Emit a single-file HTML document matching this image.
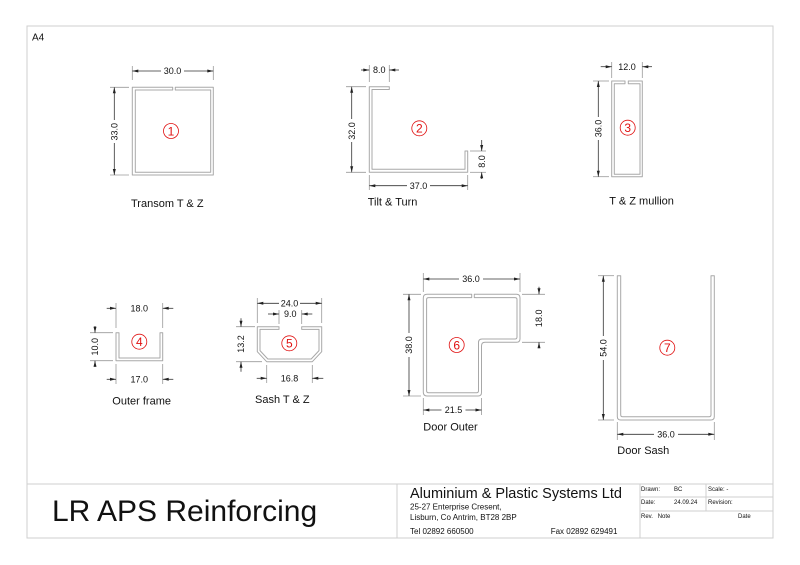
<!DOCTYPE html>
<html>
<head>
<meta charset="utf-8">
<style>
html,body{margin:0;padding:0;background:#fff;}
svg{display:block;}
text{font-family:"Liberation Sans",Arial,sans-serif;fill:#111;}
.dim{font-size:9px;}
.lbl{font-size:11px;}
.num{font-size:12px;fill:#e01010;}
.tb{font-size:6px;fill:#111;}
</style>
</head>
<body>
<svg width="800" height="565" viewBox="0 0 800 565" xmlns="http://www.w3.org/2000/svg">
<rect width="800" height="565" fill="#fff"/>

<!-- Frame -->
<g stroke="#cfcfcf" stroke-width="1" fill="none">
  <rect x="27" y="26" width="746" height="512"/>
  <line x1="27" y1="484" x2="773" y2="484"/>
  <line x1="397" y1="484" x2="397" y2="538"/>
  <line x1="640" y1="484" x2="640" y2="538"/>
  <line x1="640" y1="497" x2="773" y2="497"/>
  <line x1="640" y1="511" x2="773" y2="511"/>
  <line x1="706" y1="484" x2="706" y2="511"/>
</g>
<text x="32" y="40.5" style="font-size:10px">A4</text>

<!-- Profiles -->
<g stroke="#a8a8a8" stroke-width="1" fill="none" stroke-linejoin="round">
  <path d="M172.7,87.3 H132.3 V175 H213.3 V87.3 H175.3 V90 H210.7 V172.3 H135.3 V90 H172.7 Z"/>
  <path d="M389.3,86.7 H369.3 V172.3 H467.7 V151 H465 V169.3 H372 V89.5 H389.3 Z"/>
  <path d="M625,81 H611.7 V176.7 H642.3 V81 H628.3 V83.7 H640 V174.3 H614.3 V83.7 H625 Z"/>
  <path d="M116,332.7 V360.7 H162.7 V332.7 H160 V358 H119 V332.7 Z"/>
  <path d="M279,326.7 H257.3 V351.7 L266.7,361.7 H312.3 L321.7,351.7 V326.7 H301.7 V329.4 H319 V350.6 L311.2,359 H267.8 L260,350.6 V329.4 H279 Z"/>
  <path d="M471.7,294.3 H427 Q423.3,294.3 423.3,298 V392.3 Q423.3,396 427,396 H478 Q481.5,396 481.5,392.5 V346 Q481.5,342.3 485,342.3 H516.5 Q520,342.3 520,338.8 V298 Q520,294.3 516.5,294.3 H474.3 V297.6 H515 Q517,297.6 517,299.6 V337 Q517,339 515,339 H482 Q478.5,339 478.5,342.5 V390.7 Q478.5,392.7 476.5,392.7 H428.6 Q426.6,392.7 426.6,390.7 V299.6 Q426.6,297.6 428.6,297.6 H471.7 Z"/>
  <path d="M617.3,275.7 V416.5 Q617.3,420 620.8,420 H710.8 Q714.3,420 714.3,416.5 V275.7 H711 V414.7 Q711,416.7 709,416.7 H622.7 Q620.7,416.7 620.7,414.7 V275.7 Z"/>
</g>

<!-- Extension lines -->
<g stroke="#9a9a9a" stroke-width="0.8" fill="none">
  <!-- p1 -->
  <line x1="132.3" y1="66" x2="132.3" y2="80"/>
  <line x1="213.3" y1="66" x2="213.3" y2="80"/>
  <line x1="110" y1="87.3" x2="129" y2="87.3"/>
  <line x1="110" y1="175" x2="129" y2="175"/>
  <!-- p2 -->
  <line x1="369.3" y1="65" x2="369.3" y2="82"/>
  <line x1="389.3" y1="65" x2="389.3" y2="82"/>
  <line x1="346" y1="86.7" x2="366" y2="86.7"/>
  <line x1="346" y1="172.3" x2="366" y2="172.3"/>
  <line x1="369.3" y1="175" x2="369.3" y2="190"/>
  <line x1="467.7" y1="175" x2="467.7" y2="190"/>
  <line x1="470" y1="151" x2="486" y2="151"/>
  <line x1="470" y1="172.3" x2="486" y2="172.3"/>
  <!-- p3 -->
  <line x1="611.7" y1="62" x2="611.7" y2="78"/>
  <line x1="642.3" y1="62" x2="642.3" y2="78"/>
  <line x1="593" y1="81" x2="609" y2="81"/>
  <line x1="593" y1="176.7" x2="609" y2="176.7"/>
  <!-- p4 -->
  <line x1="116" y1="303" x2="116" y2="328"/>
  <line x1="162.7" y1="303" x2="162.7" y2="328"/>
  <line x1="90" y1="332.7" x2="113" y2="332.7"/>
  <line x1="90" y1="360.7" x2="113" y2="360.7"/>
  <line x1="116" y1="364" x2="116" y2="384"/>
  <line x1="162.7" y1="364" x2="162.7" y2="384"/>
  <!-- p5 -->
  <line x1="257.3" y1="298" x2="257.3" y2="323"/>
  <line x1="321.7" y1="298" x2="321.7" y2="323"/>
  <line x1="279" y1="310" x2="279" y2="324"/>
  <line x1="301.7" y1="310" x2="301.7" y2="324"/>
  <line x1="236" y1="326.7" x2="255" y2="326.7"/>
  <line x1="236" y1="361.7" x2="262" y2="361.7"/>
  <line x1="266.7" y1="365" x2="266.7" y2="383"/>
  <line x1="312.3" y1="365" x2="312.3" y2="383"/>
  <!-- p6 -->
  <line x1="423.3" y1="273" x2="423.3" y2="292"/>
  <line x1="520" y1="273" x2="520" y2="292"/>
  <line x1="403" y1="294.3" x2="421" y2="294.3"/>
  <line x1="403" y1="396" x2="421" y2="396"/>
  <line x1="522" y1="294.3" x2="545" y2="294.3"/>
  <line x1="522" y1="342.3" x2="545" y2="342.3"/>
  <line x1="423.3" y1="398" x2="423.3" y2="415"/>
  <line x1="481.5" y1="398" x2="481.5" y2="415"/>
  <!-- p7 -->
  <line x1="598" y1="275.7" x2="614" y2="275.7"/>
  <line x1="598" y1="420" x2="614" y2="420"/>
  <line x1="617.3" y1="422" x2="617.3" y2="440"/>
  <line x1="714.3" y1="422" x2="714.3" y2="440"/>
</g>

<!-- Dimension lines -->
<g stroke="#333" stroke-width="0.8" fill="none">
  <line x1="132.3" y1="71" x2="161" y2="71"/><line x1="184" y1="71" x2="213.3" y2="71"/>
  <line x1="114.3" y1="87.3" x2="114.3" y2="120"/><line x1="114.3" y1="143" x2="114.3" y2="175"/>
  <line x1="361" y1="70" x2="369.3" y2="70"/><line x1="389.3" y1="70" x2="399" y2="70"/>
  <line x1="351.7" y1="86.7" x2="351.7" y2="119"/><line x1="351.7" y1="142" x2="351.7" y2="172.3"/>
  <line x1="369.3" y1="185.7" x2="407" y2="185.7"/><line x1="430" y1="185.7" x2="467.7" y2="185.7"/>
  <line x1="481.7" y1="140" x2="481.7" y2="151"/><line x1="481.7" y1="172.3" x2="481.7" y2="179"/>
  <line x1="600.7" y1="66.7" x2="611.7" y2="66.7"/><line x1="642.3" y1="66.7" x2="652" y2="66.7"/>
  <line x1="598.3" y1="81" x2="598.3" y2="117"/><line x1="598.3" y1="140" x2="598.3" y2="176.7"/>
  <line x1="106.7" y1="308.3" x2="116" y2="308.3"/><line x1="162.7" y1="308.3" x2="173.3" y2="308.3"/>
  <line x1="95" y1="326" x2="95" y2="332.7"/><line x1="95" y1="360.7" x2="95" y2="367"/>
  <line x1="106.7" y1="379.3" x2="116" y2="379.3"/><line x1="162.7" y1="379.3" x2="173.3" y2="379.3"/>
  <line x1="257.3" y1="303.3" x2="279" y2="303.3"/><line x1="300" y1="303.3" x2="321.7" y2="303.3"/>
  <line x1="268" y1="314" x2="279" y2="314"/><line x1="301.7" y1="314" x2="312.3" y2="314"/>
  <line x1="241" y1="318.3" x2="241" y2="326.7"/><line x1="241" y1="361.7" x2="241" y2="371.7"/>
  <line x1="256.7" y1="378.3" x2="266.7" y2="378.3"/><line x1="312.3" y1="378.3" x2="323.3" y2="378.3"/>
  <line x1="423.3" y1="279" x2="459" y2="279"/><line x1="483" y1="279" x2="520" y2="279"/>
  <line x1="409" y1="294.3" x2="409" y2="333"/><line x1="409" y1="357" x2="409" y2="396"/>
  <line x1="539" y1="286.7" x2="539" y2="294.3"/><line x1="539" y1="342.3" x2="539" y2="348.3"/>
  <line x1="423.3" y1="410" x2="441.5" y2="410"/><line x1="465.5" y1="410" x2="481.5" y2="410"/>
  <line x1="603.3" y1="275.7" x2="603.3" y2="336"/><line x1="603.3" y1="360" x2="603.3" y2="420"/>
  <line x1="617.3" y1="434.3" x2="654" y2="434.3"/><line x1="678" y1="434.3" x2="714.3" y2="434.3"/>
</g>

<!-- Arrowheads -->
<g fill="#222" stroke="none">
  <polygon points="132.3,71 138.3,69.5 138.3,72.5"/><polygon points="213.3,71 207.3,69.5 207.3,72.5"/>
  <polygon points="114.3,87.3 112.8,93.3 115.8,93.3"/><polygon points="114.3,175 112.8,169 115.8,169"/>
  <polygon points="369.3,70 363.3,68.5 363.3,71.5"/><polygon points="389.3,70 395.3,68.5 395.3,71.5"/>
  <polygon points="351.7,86.7 350.2,92.7 353.2,92.7"/><polygon points="351.7,172.3 350.2,166.3 353.2,166.3"/>
  <polygon points="369.3,185.7 375.3,184.2 375.3,187.2"/><polygon points="467.7,185.7 461.7,184.2 461.7,187.2"/>
  <polygon points="481.7,151 480.2,145 483.2,145"/><polygon points="481.7,172.3 480.2,178.3 483.2,178.3"/>
  <polygon points="611.7,66.7 605.7,65.2 605.7,68.2"/><polygon points="642.3,66.7 648.3,65.2 648.3,68.2"/>
  <polygon points="598.3,81 596.8,87 599.8,87"/><polygon points="598.3,176.7 596.8,170.7 599.8,170.7"/>
  <polygon points="116,308.3 110,306.8 110,309.8"/><polygon points="162.7,308.3 168.7,306.8 168.7,309.8"/>
  <polygon points="95,332.7 93.5,326.7 96.5,326.7"/><polygon points="95,360.7 93.5,366.7 96.5,366.7"/>
  <polygon points="116,379.3 110,377.8 110,380.8"/><polygon points="162.7,379.3 168.7,377.8 168.7,380.8"/>
  <polygon points="257.3,303.3 263.3,301.8 263.3,304.8"/><polygon points="321.7,303.3 315.7,301.8 315.7,304.8"/>
  <polygon points="279,314 273,312.5 273,315.5"/><polygon points="301.7,314 307.7,312.5 307.7,315.5"/>
  <polygon points="241,326.7 239.5,320.7 242.5,320.7"/><polygon points="241,361.7 239.5,367.7 242.5,367.7"/>
  <polygon points="266.7,378.3 260.7,376.8 260.7,379.8"/><polygon points="312.3,378.3 318.3,376.8 318.3,379.8"/>
  <polygon points="423.3,279 429.3,277.5 429.3,280.5"/><polygon points="520,279 514,277.5 514,280.5"/>
  <polygon points="409,294.3 407.5,300.3 410.5,300.3"/><polygon points="409,396 407.5,390 410.5,390"/>
  <polygon points="539,294.3 537.5,288.3 540.5,288.3"/><polygon points="539,342.3 537.5,348.3 540.5,348.3"/>
  <polygon points="423.3,410 429.3,408.5 429.3,411.5"/><polygon points="481.5,410 475.5,408.5 475.5,411.5"/>
  <polygon points="603.3,275.7 601.8,281.7 604.8,281.7"/><polygon points="603.3,420 601.8,414 604.8,414"/>
  <polygon points="617.3,434.3 623.3,432.8 623.3,435.8"/><polygon points="714.3,434.3 708.3,432.8 708.3,435.8"/>
</g>

<!-- Dimension texts -->
<g class="dim" text-anchor="middle">
  <text x="172.5" y="74.2" class="dim">30.0</text>
  <text transform="translate(117.5,131.7) rotate(-90)" class="dim">33.0</text>
  <text x="379.3" y="73.2" class="dim">8.0</text>
  <text transform="translate(354.9,131) rotate(-90)" class="dim">32.0</text>
  <text x="418.5" y="188.9" class="dim">37.0</text>
  <text transform="translate(484.9,161.5) rotate(-90)" class="dim">8.0</text>
  <text x="627" y="69.9" class="dim">12.0</text>
  <text transform="translate(601.5,128.5) rotate(-90)" class="dim">36.0</text>
  <text x="139.3" y="311.5" class="dim">18.0</text>
  <text transform="translate(98.2,346.7) rotate(-90)" class="dim">10.0</text>
  <text x="139.3" y="382.5" class="dim">17.0</text>
  <text x="289.5" y="306.5" class="dim">24.0</text>
  <text x="290.3" y="317.2" class="dim">9.0</text>
  <text transform="translate(244.2,344) rotate(-90)" class="dim">13.2</text>
  <text x="289.5" y="381.5" class="dim">16.8</text>
  <text x="471" y="282.2" class="dim">36.0</text>
  <text transform="translate(412.2,345) rotate(-90)" class="dim">38.0</text>
  <text transform="translate(542.2,318.3) rotate(-90)" class="dim">18.0</text>
  <text x="453.5" y="413.2" class="dim">21.5</text>
  <text transform="translate(606.5,348) rotate(-90)" class="dim">54.0</text>
  <text x="666" y="437.5" class="dim">36.0</text>
</g>

<!-- Numbered circles -->
<g fill="none" stroke="#e01010" stroke-width="0.8">
  <circle cx="171" cy="131" r="7.5"/>
  <circle cx="419.3" cy="128.3" r="7.5"/>
  <circle cx="627.7" cy="127.7" r="7.5"/>
  <circle cx="139.3" cy="341.7" r="7.5"/>
  <circle cx="289.3" cy="343.3" r="7.5"/>
  <circle cx="456.7" cy="345" r="7.5"/>
  <circle cx="667.3" cy="347.7" r="7.5"/>
</g>
<g text-anchor="middle">
  <text x="171" y="135.3" class="num">1</text>
  <text x="419.3" y="132.6" class="num">2</text>
  <text x="627.7" y="132" class="num">3</text>
  <text x="139.3" y="346" class="num">4</text>
  <text x="289.3" y="347.6" class="num">5</text>
  <text x="456.7" y="349.3" class="num">6</text>
  <text x="667.3" y="352" class="num">7</text>
</g>

<!-- Labels -->
<text x="131" y="207" class="lbl">Transom T &amp; Z</text>
<text x="367.7" y="205.5" class="lbl">Tilt &amp; Turn</text>
<text x="609.3" y="204.5" class="lbl">T &amp; Z mullion</text>
<text x="112.3" y="404.5" class="lbl">Outer frame</text>
<text x="255" y="403" class="lbl">Sash T &amp; Z</text>
<text x="423.3" y="430.5" class="lbl">Door Outer</text>
<text x="617.3" y="454" class="lbl">Door Sash</text>

<!-- Title block -->
<text x="52" y="521" style="font-size:30px">LR APS Reinforcing</text>
<text x="410" y="498" style="font-size:14.5px">Aluminium &amp; Plastic Systems Ltd</text>
<text x="410" y="509.5" style="font-size:8px">25-27 Enterprise Cresent,</text>
<text x="410" y="520" style="font-size:8px">Lisburn, Co Antrim, BT28 2BP</text>
<text x="410" y="534" style="font-size:8px">Tel 02892 660500</text>
<text x="550.7" y="534" style="font-size:8px">Fax 02892 629491</text>

<text x="641" y="490.8" class="tb">Drawn:</text>
<text x="674" y="490.8" class="tb">BC</text>
<text x="708" y="490.8" class="tb">Scale: -</text>
<text x="641" y="504.2" class="tb">Date:</text>
<text x="674" y="504.2" class="tb">24.09.24</text>
<text x="708" y="504.2" class="tb">Revision:</text>
<text x="641" y="517.8" class="tb">Rev.</text>
<text x="657.7" y="517.8" class="tb">Note</text>
<text x="738" y="517.8" class="tb">Date</text>
</svg>
</body>
</html>
